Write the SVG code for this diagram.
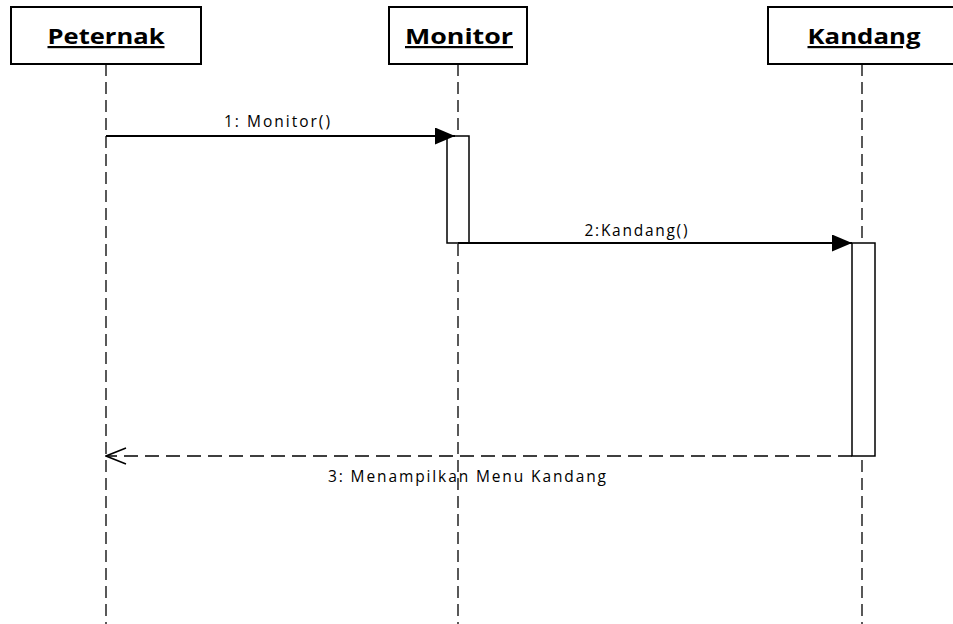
<svg xmlns="http://www.w3.org/2000/svg" width="953" height="624" viewBox="0 0 953 624">
<defs>
<style>
.box{fill:#fff;stroke:#000;stroke-width:2}
.life{stroke:#000;stroke-width:1.3;stroke-dasharray:12 6;fill:none}
.act{fill:#fff;stroke:#000;stroke-width:1.5}
.msg{stroke:#000;stroke-width:2;fill:none}
.ret{stroke:#000;stroke-width:1.5;stroke-dasharray:14 7;fill:none}
.title{font-family:"Open Sans",sans-serif;font-weight:bold;font-size:22px;text-anchor:middle;text-decoration:underline}
.lbl{font-family:"Open Sans",sans-serif;font-size:15.5px;text-anchor:middle}
</style>
<marker id="filled" viewBox="0 0 20 17" refX="20" refY="8.5" markerWidth="20" markerHeight="17" markerUnits="userSpaceOnUse" orient="auto"><path d="M0,0 L20,8.5 L0,17 Z" fill="#000"/></marker>
<marker id="open" viewBox="0 0 22 18" refX="21" refY="9" markerWidth="22" markerHeight="18" markerUnits="userSpaceOnUse" orient="auto"><path d="M1,1 L21,9 L1,17" fill="none" stroke="#000" stroke-width="1.5"/></marker>
</defs>
<rect width="953" height="624" fill="#fff"/>
<g id="peternak">
<line class="life" x1="106" y1="64" x2="106" y2="624"/>
<rect class="box" x="11" y="7" width="190" height="57"/>
<text class="title" x="106" y="44" textLength="117" lengthAdjust="spacingAndGlyphs">Peternak</text>
</g>
<g id="monitor">
<line class="life" x1="458" y1="64" x2="458" y2="624"/>
<rect class="box" x="389" y="7" width="138" height="57"/>
<text class="title" x="459" y="44" textLength="108" lengthAdjust="spacingAndGlyphs">Monitor</text>
<rect class="act" x="447" y="136" width="22" height="107"/>
</g>
<g id="kandang">
<line class="life" x1="862" y1="64" x2="862" y2="624"/>
<rect class="box" x="768" y="7" width="200" height="57"/>
<text class="title" x="864" y="44" textLength="113" lengthAdjust="spacingAndGlyphs">Kandang</text>
<rect class="act" x="852" y="243" width="23" height="213"/>
</g>
<g id="connectors">
<line class="msg" x1="106" y1="136" x2="455" y2="136" marker-end="url(#filled)"/>
<text class="lbl" x="277" y="127" textLength="106" lengthAdjust="spacing">1: Monitor()</text>
<line class="msg" x1="458" y1="243" x2="852" y2="243" marker-end="url(#filled)"/>
<text class="lbl" x="636" y="236" textLength="103" lengthAdjust="spacing">2:Kandang()</text>
<line class="ret" x1="852" y1="456" x2="106" y2="456" marker-end="url(#open)"/>
<text class="lbl" x="467" y="482" textLength="278" lengthAdjust="spacing">3: Menampilkan Menu Kandang</text>
</g>
</svg>
